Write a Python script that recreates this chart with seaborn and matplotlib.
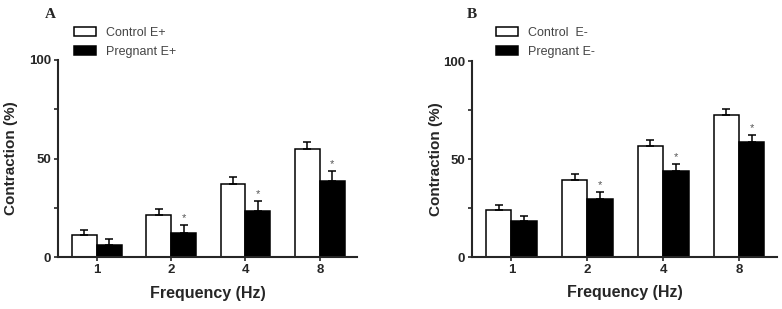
import matplotlib
matplotlib.use("Agg")
import matplotlib.pyplot as plt
import seaborn as sns
import pandas as pd
import numpy as np

sns.set_style("ticks")
plt.rcParams['font.family'] = ['Liberation Sans', 'DejaVu Sans']

freqs = ["1", "2", "4", "8"]

# Panel A
control_A = [11.0, 21.5, 37.0, 55.0]
control_A_err = [2.9, 3.0, 3.7, 3.5]
pregnant_A = [6.3, 12.2, 23.4, 38.5]
pregnant_A_err = [2.7, 4.2, 5.2, 5.2]
sig_A = [False, True, True, True]

# Panel B
control_B = [23.9, 39.5, 56.7, 72.4]
control_B_err = [2.7, 2.9, 3.1, 3.2]
pregnant_B = [18.2, 29.6, 44.0, 58.8]
pregnant_B_err = [2.6, 3.6, 3.7, 3.7]
sig_B = [False, True, True, True]

panels = [
    ("A", "Control E+", "Pregnant E+", control_A, control_A_err, pregnant_A, pregnant_A_err, sig_A),
    ("B", "Control  E-", "Pregnant E-", control_B, control_B_err, pregnant_B, pregnant_B_err, sig_B),
]

fig = plt.figure(figsize=(7.82, 3.09), dpi=100)
axes_rects = [
    [58 / 782, 52 / 309, 299 / 782, 197 / 309],
    [472 / 782, 52 / 309, 305 / 782, 196 / 309],
]
ylabel_x = [-0.135, -0.095]
letter_pos = [(45 / 782, 1 - 14 / 309), (467 / 782, 1 - 14 / 309)]
legend_pos = [(74 / 782, 1 - 27 / 309), (496 / 782, 1 - 27 / 309)]

for i, (letter, c_name, p_name, c_vals, c_err, p_vals, p_err, sig) in enumerate(panels):
    ax = fig.add_axes(axes_rects[i])
    df = pd.DataFrame({
        "freq": freqs * 2,
        "value": list(c_vals) + list(p_vals),
        "group": [c_name] * 4 + [p_name] * 4,
    })
    sns.barplot(data=df, x="freq", y="value", hue="group", order=freqs,
                hue_order=[c_name, p_name], palette=["white", "black"],
                edgecolor="black", linewidth=1.1, width=0.67, errorbar=None,
                ax=ax)
    errs = [c_err, p_err]
    bar_containers = list(ax.containers)
    for k, cont in enumerate(bar_containers):
        xs = np.array([b.get_x() + b.get_width() / 2 for b in cont])
        hs = np.array([b.get_height() for b in cont])
        e = np.array(errs[k])
        ax.errorbar(xs, hs, yerr=[np.zeros_like(e), e], fmt="none",
                    ecolor="black", elinewidth=1.1, capsize=3, capthick=1.1,
                    zorder=3)
        if k == 1:
            for x, h, ee, s in zip(xs, hs, e, sig):
                if s:
                    ax.text(x, h + ee + 0.8, "*", ha="center", va="bottom",
                            fontsize=8, color="#555555")
    ax.set_xlim(-0.52, 3.5)
    ax.set_ylim(0, 100)
    ax.set_yticks([0, 25, 50, 75, 100])
    ax.set_yticklabels(["0", "", "50", "", "100"])
    for lab in ax.get_yticklabels() + ax.get_xticklabels():
        lab.set_fontweight("bold")
        lab.set_fontsize(9.5)
    ax.tick_params(axis="both", direction="out", length=3, width=1.2, pad=2)
    for sp in ["left", "bottom"]:
        ax.spines[sp].set_linewidth(1.5)
    sns.despine(ax=ax)
    ax.set_xlabel("Frequency (Hz)", fontsize=11.5, fontweight="bold")
    ax.xaxis.set_label_coords(0.5, -0.145)
    ax.set_ylabel("Contraction (%)", fontsize=11, fontweight="bold")
    ax.yaxis.set_label_coords(ylabel_x[i], 0.5)
    handles, labels = ax.get_legend_handles_labels()
    ax.get_legend().remove()
    leg = fig.legend(handles, labels, loc="upper left",
                     bbox_to_anchor=legend_pos[i], frameon=False, fontsize=9,
                     handlelength=1.75, handleheight=0.75, handletextpad=0.8,
                     labelspacing=0.55, borderaxespad=0, borderpad=0)
    for t in leg.get_texts():
        t.set_color("#444444")
    fig.text(letter_pos[i][0], letter_pos[i][1], letter, fontsize=11,
             fontweight="bold", family=["Liberation Serif", "DejaVu Serif"],
             ha="left", va="center")

fig.savefig("out.png", dpi=100)
